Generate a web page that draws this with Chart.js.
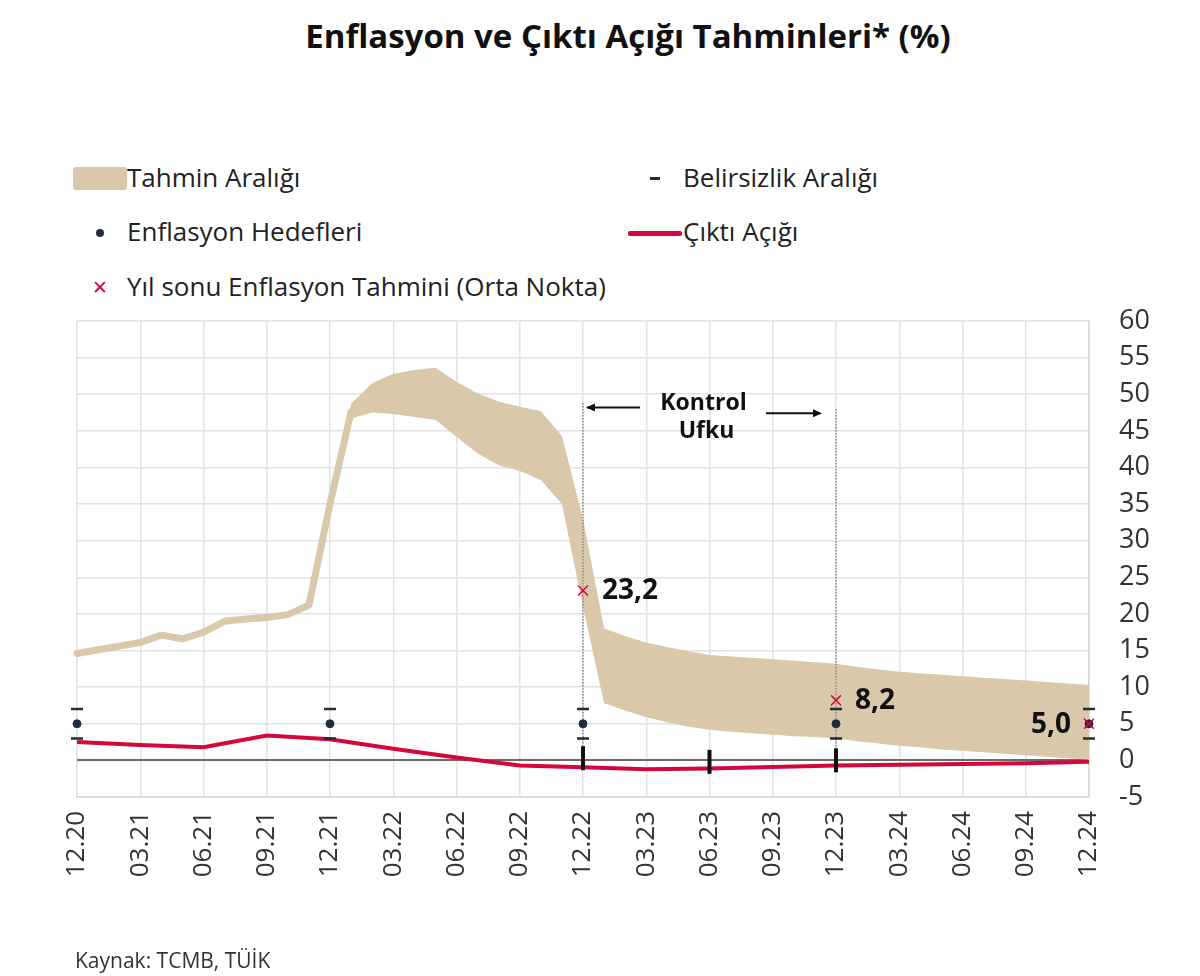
<!DOCTYPE html>
<html lang="tr">
<head>
<meta charset="utf-8">
<title>Enflasyon ve Çıktı Açığı Tahminleri</title>
<script src="https://cdn.jsdelivr.net/npm/chart.js@4.4.1/dist/chart.umd.min.js"></script>
<style>
  html, body { margin: 0; padding: 0; background: #fff; }
  body { font-family: 'Open Sans', sans-serif; color: #222; }
  #page { position: relative; width: 1200px; height: 976px; overflow: hidden; }
  #chart-box { position: absolute; left: 0; top: 0; width: 1200px; height: 976px; }
  .title { position: absolute; top: 14px; left: 0; width: 1256px; text-align: center;
           font-weight: 700; font-size: 33px; line-height: 44px; color: #111; }
  .lg { position: absolute; font-size: 26px; line-height: 34px; color: #222; white-space: nowrap; }
  .mark { position: absolute; }
  .source { position: absolute; left: 75px; top: 946px; font-size: 21px; line-height: 28px; color: #333; }
</style>
</head>
<body>
<div id="page">
  <div class="title">Enflasyon ve Çıktı Açığı Tahminleri* (%)</div>

  <div class="mark" style="left:73px;top:167px;width:54px;height:23px;background:#d9c8a9;border-radius:3px;"></div>
  <div class="lg" style="left:127px;top:160px;">Tahmin Aralığı</div>

  <div class="mark" style="left:650px;top:177px;width:10px;height:3px;background:#1f2d3d;"></div>
  <div class="lg" style="left:683px;top:160px;">Belirsizlik Aralığı</div>

  <div class="mark" style="left:96px;top:229px;width:8px;height:8px;border-radius:50%;background:#1f2d3d;"></div>
  <div class="lg" style="left:127px;top:214px;">Enflasyon Hedefleri</div>

  <div class="mark" style="left:628px;top:231px;width:54px;height:5px;border-radius:2px;background:#d4063c;"></div>
  <div class="lg" style="left:683px;top:214px;">Çıktı Açığı</div>

  <div class="lg" style="left:92px;top:270px;color:#d4063c;font-size:19px;">✕</div>
  <div class="lg" style="left:127px;top:269px;">Yıl sonu Enflasyon Tahmini (Orta Nokta)</div>

  <div id="chart-box"><canvas id="chart" width="1200" height="976"></canvas></div>
  <div class="source">Kaynak: TCMB, TÜİK</div>
</div>

<script>
// Months on the x axis (monthly, only quarters are labelled)
const months = [
  '12.20', '01.21', '02.21', '03.21', '04.21', '05.21', '06.21', '07.21', '08.21', '09.21', '10.21', '11.21',
  '12.21', '01.22', '02.22', '03.22', '04.22', '05.22', '06.22', '07.22', '08.22', '09.22', '10.22', '11.22',
  '12.22', '01.23', '02.23', '03.23', '04.23', '05.23', '06.23', '07.23', '08.23', '09.23', '10.23', '11.23',
  '12.23', '01.24', '02.24', '03.24', '04.24', '05.24', '06.24', '07.24', '08.24', '09.24', '10.24', '11.24',
  '12.24'
];

// Realised inflation (thin part of the band), 12.20 - 01.22
const actualInflation = [14.6, 15.1, 15.6, 16.1, 17.1, 16.6, 17.5, 19.0, 19.3, 19.5, 19.9, 21.2, 35.0, 47.6];

// Forecast band (Tahmin Aralığı), from 12.21 onward
const bandUpper = [
  null, null, null, null, null, null, null, null, null, null, null, null,
  35.0, 48.7, 51.5, 52.8, 53.3, 53.6, 51.7, 50.1, 49.0, 48.3, 47.7, 44.3,
  33.0, 18.0, 17.0, 16.1, 15.5, 14.9, 14.4, 14.2, 14.0, 13.8, 13.6, 13.4,
  13.2, 12.8, 12.4, 12.1, 11.9, 11.7, 11.5, 11.3, 11.1, 10.9, 10.7, 10.5,
  10.3
];
const bandLower = [
  null, null, null, null, null, null, null, null, null, null, null, null,
  35.0, 46.7, 47.5, 47.3, 46.9, 46.5, 44.2, 41.9, 40.3, 39.5, 38.3, 35.0,
  21.0, 7.8, 6.8, 5.9, 5.2, 4.6, 4.2, 3.9, 3.7, 3.5, 3.3, 3.2,
  3.0, 2.6, 2.3, 2.0, 1.8, 1.5, 1.3, 1.1, 0.9, 0.7, 0.5, 0.3,
  0.1
];

// Output gap (Çıktı Açığı), quarterly
const gapMonths = ['12.20', '03.21', '06.21', '09.21', '12.21', '03.22', '06.22', '09.22', '12.22',
                   '03.23', '06.23', '09.23', '12.23', '03.24', '06.24', '09.24', '12.24'];
const gapValues = [2.5, 2.1, 1.8, 3.4, 2.9, 1.6, 0.4, -0.7, -0.95, -1.2, -1.1, -0.9, -0.7, -0.6, -0.5, -0.4, -0.2];

// Inflation targets and uncertainty band
const targetMonths = ['12.20', '12.21', '12.22', '12.23', '12.24'];
const targetValues = [5, 5, 5, 5, 5];
const uncertaintyHigh = [7, 7, 7, 7, 7];
const uncertaintyLow = [3, 3, 3, 3, 3];

// Year-end forecast midpoints
const midMonths = ['12.22', '12.23', '12.24'];
const midValues = [23.2, 8.2, 5.0];
const midLabels = ['23,2', '8,2', '5,0'];

// Policy horizon markers on the zero line
const horizonMonths = ['12.22', '06.23', '12.23'];
const horizonValues = [0.3, -0.2, 0.0];

// Kontrol Ufku vertical guides
const guideMonths = ['12.22', '12.23'];
const guideTops = [48.8, 48.0];

// Right axis ticks
const yMin = -5;
const yMax = 60;
const yStep = 5;

const TAN = '#d9c8a9';
const RED = '#d4063c';
const NAVY = '#1f2d3d';

Chart.defaults.font.family = "'Open Sans', sans-serif";
Chart.defaults.color = '#333';

const pts = (xs, ys) => xs.map((m, i) => ({ x: m, y: ys[i] }));

/**
 * Draws the Kontrol Ufku arrows/text and the midpoint value labels
 */
const annotationPlugin = {
    id: 'annotations',
    afterDatasetsDraw(chart) {
        const { ctx, scales: { x, y } } = chart;
        const xa = x.getPixelForValue(months.indexOf(guideMonths[0]));
        const xb = x.getPixelForValue(months.indexOf(guideMonths[1]));

        ctx.save();
        ctx.strokeStyle = '#111';
        ctx.fillStyle = '#111';
        ctx.lineWidth = 2;

        // left arrow
        const ya = y.getPixelForValue(48.2);
        ctx.beginPath();
        ctx.moveTo(xa + 4, ya);
        ctx.lineTo(xa + 57, ya);
        ctx.stroke();
        ctx.beginPath();
        ctx.moveTo(xa + 3, ya);
        ctx.lineTo(xa + 12, ya - 4);
        ctx.lineTo(xa + 12, ya + 4);
        ctx.closePath();
        ctx.fill();

        // right arrow
        const yb = y.getPixelForValue(47.4);
        ctx.beginPath();
        ctx.moveTo(xb - 70, yb);
        ctx.lineTo(xb - 16, yb);
        ctx.stroke();
        ctx.beginPath();
        ctx.moveTo(xb - 14, yb);
        ctx.lineTo(xb - 23, yb - 4);
        ctx.lineTo(xb - 23, yb + 4);
        ctx.closePath();
        ctx.fill();

        // Kontrol Ufku text
        const xm = (xa + xb) / 2 - 6;
        ctx.font = "bold 23px 'Open Sans', sans-serif";
        ctx.textAlign = 'center';
        ctx.textBaseline = 'middle';
        ctx.fillText('Kontrol', xm, y.getPixelForValue(48.7));
        ctx.fillText('Ufku', xm + 3, y.getPixelForValue(44.9));

        // midpoint labels
        ctx.font = "bold 28px 'Open Sans', sans-serif";
        midMonths.forEach((m, i) => {
            const px = x.getPixelForValue(months.indexOf(m));
            const py = y.getPixelForValue(midValues[i]);
            const last = i === midMonths.length - 1;
            ctx.textAlign = last ? 'right' : 'left';
            ctx.fillText(midLabels[i], last ? px - 18 : px + 19, py + 1);
        });
        ctx.restore();
    }
};

const ctx = document.getElementById('chart');

new Chart(ctx, {
    type: 'line',
    data: {
        labels: months,
        datasets: [
            {
                label: 'Tahmin Aralığı (alt)',
                data: bandLower,
                borderWidth: 0,
                pointRadius: 0,
                fill: false,
                order: 10
            },
            {
                label: 'Tahmin Aralığı',
                data: bandUpper,
                borderWidth: 0,
                pointRadius: 0,
                backgroundColor: TAN,
                fill: '-1',
                order: 9
            },
            {
                label: 'Gerçekleşme',
                data: actualInflation,
                borderColor: TAN,
                borderWidth: 7,
                borderJoinStyle: 'round',
                borderCapStyle: 'round',
                pointRadius: 0,
                fill: false,
                order: 8
            },
            ...guideMonths.map((m, i) => ({
                label: 'Kontrol Ufku ' + m,
                data: [{ x: m, y: guideTops[i] }, { x: m, y: 0 }],
                borderColor: '#8a8a8a',
                borderWidth: 1.5,
                borderDash: [1.5, 1.5],
                pointRadius: 0,
                fill: false,
                order: 7
            })),
            {
                label: 'Çıktı Açığı',
                data: pts(gapMonths, gapValues),
                borderColor: RED,
                borderWidth: 4,
                pointRadius: 0,
                fill: false,
                order: 6
            },
            {
                label: 'Ufuk',
                data: pts(horizonMonths, horizonValues),
                showLine: false,
                pointStyle: 'line',
                rotation: 90,
                pointRadius: 12,
                borderColor: '#111',
                pointBorderWidth: 4,
                order: 5
            },
            {
                label: 'Belirsizlik Aralığı üst',
                data: pts(targetMonths, uncertaintyHigh),
                showLine: false,
                pointStyle: 'line',
                pointRadius: 6,
                borderColor: NAVY,
                pointBorderWidth: 2.5,
                order: 4
            },
            {
                label: 'Belirsizlik Aralığı alt',
                data: pts(targetMonths, uncertaintyLow),
                showLine: false,
                pointStyle: 'line',
                pointRadius: 6,
                borderColor: NAVY,
                pointBorderWidth: 2.5,
                order: 4
            },
            {
                label: 'Enflasyon Hedefleri',
                data: pts(targetMonths, targetValues),
                showLine: false,
                pointStyle: 'circle',
                pointRadius: 4,
                backgroundColor: NAVY,
                borderColor: NAVY,
                order: 3
            },
            {
                label: 'Yıl sonu Enflasyon Tahmini (Orta Nokta)',
                data: pts(midMonths, midValues),
                showLine: false,
                pointStyle: 'crossRot',
                pointRadius: 7,
                borderColor: RED,
                pointBorderWidth: 1.5,
                order: 2
            }
        ]
    },
    options: {
        responsive: false,
        animation: false,
        layout: {
            padding: { top: 321, left: 77, right: 0, bottom: 0 }
        },
        plugins: {
            legend: { display: false },
            title: { display: false },
            tooltip: { enabled: false }
        },
        scales: {
            x: {
                type: 'category',
                offset: false,
                afterFit: (scale) => { scale.height = 179; },
                border: { display: true, color: '#d8d8d8', width: 1.5 },
                grid: {
                    color: '#e2e2e2',
                    lineWidth: 1.5,
                    drawTicks: false
                },
                ticks: {
                    autoSkip: false,
                    minRotation: 90,
                    maxRotation: 90,
                    padding: 14,
                    font: { size: 26 },
                    color: '#333',
                    callback: function (value, index) {
                        return index % 3 === 0 ? this.getLabelForValue(value) : null;
                    }
                }
            },
            y: {
                position: 'right',
                min: yMin,
                max: yMax,
                afterFit: (scale) => { scale.width = 111; },
                border: { display: true, color: '#d8d8d8', width: 1.5 },
                grid: {
                    drawTicks: false,
                    lineWidth: (c) => c.tick && c.tick.value === 0 ? 2 : 1.5,
                    color: (c) => c.tick && c.tick.value === 0 ? '#6a6a6a' : '#e2e2e2'
                },
                ticks: {
                    stepSize: yStep,
                    padding: 30,
                    font: { size: 27 },
                    color: '#333'
                }
            }
        }
    },
    plugins: [annotationPlugin]
});
</script>
</body>
</html>
